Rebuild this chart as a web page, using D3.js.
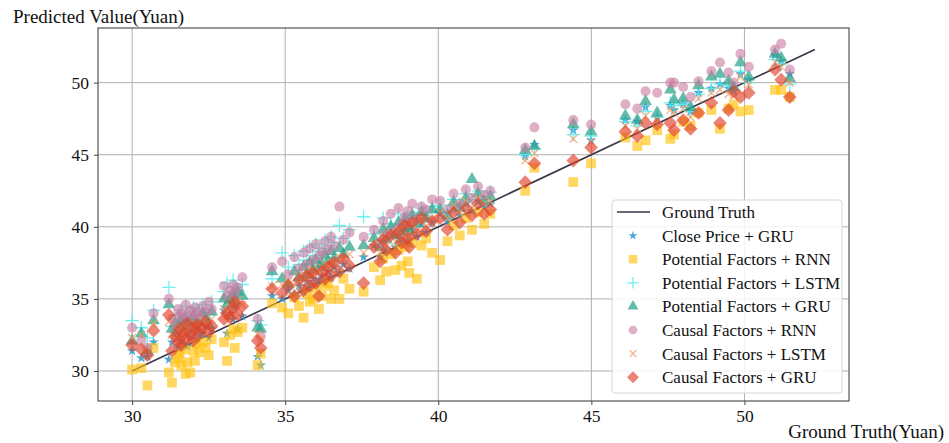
<!DOCTYPE html>
<html>
<head>
<meta charset="utf-8">
<script src="https://cdn.jsdelivr.net/npm/d3@7"></script>
<style>
  body { margin: 0; background: #fff; }
  svg { display: block; font-family: "Liberation Serif", "Times New Roman", serif; }
</style>
</head>
<body>
<svg id="chart" width="949" height="443"></svg>
<script>
// ground truth (x) for every test sample
const groundTruth = [
  30.0, 30.3, 30.5, 30.7,
  31.2, 31.3, 31.4, 31.5, 31.55, 31.6, 31.7, 31.75, 31.8, 31.9, 32.0, 32.05, 32.1, 32.2, 32.3, 32.4, 32.5, 32.6,
  33.0, 33.1, 33.2, 33.3, 33.35, 33.45, 33.6,
  34.1, 34.2,
  34.57, 34.9, 35.1, 35.3, 35.45, 35.6, 35.7, 35.8, 35.9, 36.0, 36.1, 36.2, 36.3, 36.4, 36.5, 36.6, 36.77, 36.9, 37.1, 37.56,
  37.9, 38.1, 38.2, 38.3, 38.45, 38.6, 38.7, 38.8, 38.9, 39.0, 39.05, 39.15, 39.3, 39.45, 39.6, 39.8,
  40.06, 40.3, 40.5, 40.7, 40.9, 41.1, 41.3, 41.5, 41.7,
  42.84, 43.14, 44.41, 44.99, 46.11, 46.5, 46.77, 47.15, 47.58, 47.7, 48.0, 48.24, 48.5, 48.92, 49.2, 49.48, 49.65, 49.87, 50.14, 51.0, 51.2, 51.48
];

// predicted values per model (same order as groundTruth)
const closeGRU = [
  31.4, 30.9, 31.0, 32.0,
  30.8, 32.0, 32.6, 31.6, 32.3, 32.1, 31.9, 32.7, 31.7, 32.4, 32.8, 32.2, 33.0, 32.5, 32.6, 33.1, 32.3, 32.9,
  34.2, 32.6, 34.0, 33.6, 34.4, 32.9, 33.8,
  31.0, 30.4,
  35.2, 35.0, 35.6, 35.3, 35.9, 35.5, 36.2, 35.8, 36.4, 36.0, 36.3, 36.6, 36.1, 36.9, 36.5, 37.2, 36.8, 37.4, 37.1, 37.9,
  38.7, 37.9, 39.0, 38.3, 39.5, 38.6, 39.2, 38.9, 39.9, 39.1, 38.8, 39.8, 39.3, 40.2, 39.6, 40.3,
  40.9, 40.4, 41.3, 40.8, 41.6, 41.1, 41.8, 41.4, 41.6,
  44.9, 45.7, 46.7, 46.0, 47.4, 47.3, 48.3, 47.6, 48.4, 48.1, 48.5, 48.0, 49.3, 49.6, 49.9, 49.6, 49.4, 50.6, 50.2, 51.9, 51.5, 50.6
];
const potRNN = [
  30.1, 30.2, 29.0, 31.6,
  29.9, 29.2, 30.6, 30.9, 31.2, 30.4, 31.5, 29.8, 30.6, 29.9, 31.4, 30.7, 31.9, 31.3, 32.0, 31.6, 31.1, 32.2,
  32.0, 30.7, 32.5, 32.9, 31.6, 32.7, 33.0,
  30.4, 31.2,
  34.7, 34.4, 34.0, 35.1, 34.5, 33.7, 35.4, 34.8, 35.0, 35.7, 34.3, 35.2, 35.9, 36.1, 35.0, 35.6, 35.0, 36.4, 35.7, 35.5,
  37.2, 36.3, 37.8, 36.9, 38.1, 37.0, 38.4, 37.3, 38.6, 37.6, 36.8, 38.9, 36.4, 38.7, 39.2, 38.2,
  37.7, 39.0, 40.1, 39.4, 40.6, 39.8, 41.0, 40.2, 40.9,
  42.5, 44.1, 43.1, 44.4, 46.2, 45.6, 46.0, 46.7, 46.1, 46.4, 47.3, 47.0, 47.9, 48.1, 46.8, 48.2, 48.5, 48.0, 48.1, 49.5, 49.5, 49.0
];
const potLSTM = [
  33.5, 33.0, 32.3, 34.2,
  35.8, 33.1, 33.6, 33.9, 33.4, 34.2, 33.8, 34.5, 33.6, 34.0, 34.4, 33.7, 34.3, 34.1, 34.6, 34.2, 33.9, 34.8,
  35.5, 36.1, 35.2, 36.3, 35.8, 35.6, 36.0,
  33.5, 33.2,
  36.4, 38.2, 37.2, 38.0, 37.4, 38.3, 37.7, 38.6, 38.0, 38.8, 38.3, 38.5, 39.1, 38.7, 39.3, 38.9, 40.1, 39.2, 39.8, 40.7,
  39.5, 39.0, 40.6, 39.4, 40.2, 39.7, 40.9, 40.0, 40.4, 40.8, 40.1, 41.0, 40.5, 41.3, 40.9, 41.4,
  41.5, 41.0, 41.9, 41.6, 42.3, 41.9, 42.5, 42.0, 42.4,
  45.0, 45.4, 46.4, 46.3, 47.3, 47.0, 48.0, 47.6, 48.6, 48.4, 48.5, 48.0, 49.2, 49.6, 49.9, 49.8, 49.5, 50.8, 50.0, 51.6, 51.3, 49.9
];
const potGRU = [
  32.1, 32.6, 31.4, 33.5,
  34.6, 32.9, 33.3, 32.6, 33.2, 33.5, 32.9, 33.6, 33.1, 33.4, 33.8, 33.0, 33.5, 33.3, 34.0, 33.7, 33.2, 34.1,
  35.0, 34.6, 34.9, 35.3, 34.8, 35.5, 35.2,
  33.0, 32.9,
  36.9, 36.4, 36.0, 36.9, 36.5, 37.2, 36.7, 37.5, 37.0, 37.7, 37.2, 37.4, 38.0, 37.6, 38.3, 37.8, 38.5, 38.1, 38.6, 38.7,
  39.2, 38.6, 39.8, 39.1, 40.0, 39.4, 40.3, 39.6, 40.5, 39.9, 39.7, 40.8, 40.2, 41.0, 40.6, 41.2,
  41.2, 40.8, 41.7, 41.3, 42.0, 43.3, 42.3, 41.8, 42.1,
  45.3, 45.6, 47.1, 46.6, 47.7, 47.4, 48.7, 47.9, 49.5, 48.8, 48.9, 48.3, 49.8, 50.4, 50.6, 50.1, 49.7, 51.4, 50.4, 52.0, 51.7, 50.3
];
const causalRNN = [
  33.0, 32.1, 31.6, 34.0,
  35.0, 33.6, 33.2, 34.3, 33.8, 34.0, 33.4, 34.6, 33.9, 34.2, 33.7, 34.4, 34.0, 33.8, 34.5, 34.1, 34.8, 34.3,
  35.9, 35.2, 35.6, 36.0, 35.4, 35.8, 36.5,
  33.6, 32.4,
  37.2, 37.6, 36.7, 37.9, 37.1, 38.2, 37.4, 38.5, 37.7, 38.8, 38.0, 38.3, 39.0, 38.4, 39.3, 38.7, 41.4, 39.1, 39.6, 39.3,
  39.8, 38.9, 40.4, 39.5, 40.9, 39.8, 41.3, 40.2, 40.7, 41.1, 40.3, 41.6, 40.6, 41.4, 41.2, 41.9,
  41.8, 41.2, 42.3, 41.6, 42.6, 42.0, 42.8, 42.2, 42.5,
  45.5, 46.9, 47.4, 47.1, 48.5, 48.2, 49.4, 49.3, 50.0, 50.0, 49.7, 49.0, 50.1, 50.8, 51.4, 50.7, 50.0, 52.0, 51.1, 52.3, 52.7, 50.9
];
const causalLSTM = [
  32.3, 32.5, 31.5, 33.3,
  33.4, 32.5, 32.2, 32.8, 32.3, 33.0, 32.6, 33.1, 32.7, 32.9, 33.3, 32.8, 33.2, 33.0, 33.5, 33.3, 33.1, 33.6,
  34.3, 34.0, 34.5, 34.7, 34.1, 34.9, 34.6,
  32.6, 32.2,
  35.9, 36.0, 36.2, 36.0, 36.6, 36.3, 36.9, 36.5, 37.1, 36.8, 37.0, 37.2, 37.4, 37.3, 37.6, 37.5, 37.9, 37.8, 38.1, 38.2,
  38.9, 38.2, 39.3, 38.7, 39.6, 39.0, 39.8, 39.2, 40.1, 39.5, 39.3, 40.2, 39.7, 40.4, 40.0, 40.6,
  41.0, 40.6, 41.5, 41.0, 41.8, 41.3, 42.0, 41.6, 41.8,
  44.6, 45.1, 46.1, 45.9, 47.0, 46.8, 47.7, 47.4, 48.1, 47.9, 48.2, 47.6, 48.9, 49.3, 49.5, 49.2, 49.1, 50.4, 49.9, 51.4, 51.1, 50.0
];
const causalGRU = [
  31.8, 31.5, 31.1, 32.8,
  33.9, 31.4, 32.4, 32.0, 32.9, 31.8, 32.6, 32.2, 33.3, 32.5, 32.1, 32.9, 33.2, 32.6, 33.0, 33.4, 32.7, 33.1,
  33.6, 34.0, 33.7, 34.4, 34.8, 33.9, 34.5,
  32.1, 31.6,
  35.7, 35.4, 35.9, 35.2, 36.3, 35.6, 36.6, 35.9, 36.8, 36.1, 35.2, 36.9, 36.4, 37.2, 36.6, 37.5, 36.9, 37.8, 37.3, 36.1,
  38.6, 37.6, 39.1, 38.4, 39.4, 38.2, 39.6, 38.9, 40.1, 39.2, 38.6, 40.3, 39.5, 40.6, 39.7, 40.4,
  40.6, 39.8, 41.0, 40.3, 41.3, 40.8, 41.6, 40.9, 41.2,
  43.1, 44.4, 44.6, 45.5, 46.6, 46.3, 47.2, 47.1, 47.2, 46.7, 47.4, 46.8, 47.9, 48.6, 47.2, 48.1, 49.4, 49.0, 49.3, 50.9, 50.2, 49.0
];

const seriesNames = [
  "Close Price + GRU", "Potential Factors + RNN", "Potential Factors + LSTM",
  "Potential Factors + GRU", "Causal Factors + RNN", "Causal Factors + LSTM", "Causal Factors + GRU"
];
const seriesValues = [closeGRU, potRNN, potLSTM, potGRU, causalRNN, causalLSTM, causalGRU];
const xTicks = [30, 35, 40, 45, 50];
const yTicks = [30, 35, 40, 45, 50];
const truthLine = [30.0, 52.3];

// marker style per series
const styles = [
  { shape: "star",     color: "#3098d0", size: 34,  alpha: 0.85 },
  { shape: "square",   color: "#ffc20e", size: 95,  alpha: 0.65 },
  { shape: "plus",     color: "#55eeee", size: 60,  alpha: 0.85 },
  { shape: "triangle", color: "#23a088", size: 70,  alpha: 0.7 },
  { shape: "circle",   color: "#c97a9e", size: 80,  alpha: 0.6 },
  { shape: "cross",    color: "#f59a5c", size: 40,  alpha: 0.75 },
  { shape: "diamond",  color: "#e0422a", size: 95,  alpha: 0.65 }
];
const symbolMap = {
  star: d3.symbolStar, square: d3.symbolSquare, plus: d3.symbolPlus,
  triangle: d3.symbolTriangle, circle: d3.symbolCircle, cross: d3.symbolTimes, diamond: d3.symbolSquare
};

const svg = d3.select("#chart");
const margin = { left: 98, right: 100, top: 28, bottom: 42 };
const W = 949, H = 443;

const x = d3.scaleLinear().domain([28.885, 53.415]).range([margin.left, W - margin.right]);
const y = d3.scaleLinear().domain([27.92, 53.79]).range([H - margin.bottom, margin.top]);

// grid
svg.append("g").selectAll("line").data(xTicks).join("line")
  .attr("x1", d => x(d)).attr("x2", d => x(d))
  .attr("y1", y.range()[0]).attr("y2", y.range()[1])
  .attr("stroke", "#b0b0b0").attr("stroke-width", 1);
svg.append("g").selectAll("line").data(yTicks).join("line")
  .attr("y1", d => y(d)).attr("y2", d => y(d))
  .attr("x1", x.range()[0]).attr("x2", x.range()[1])
  .attr("stroke", "#b0b0b0").attr("stroke-width", 1);

// ground truth line
svg.append("line")
  .attr("x1", x(truthLine[0])).attr("y1", y(truthLine[0]))
  .attr("x2", x(truthLine[1])).attr("y2", y(truthLine[1]))
  .attr("stroke", "#3b3548").attr("stroke-width", 1.6);

function drawMarker(sel, st, scale) {
  const k = scale || 1;
  const sym = d3.symbol().type(symbolMap[st.shape]).size(st.size * k);
  const p = sel.append("path").attr("d", sym());
  if (st.shape === "diamond") p.attr("transform", "rotate(45)");
  if (st.shape === "plus" || st.shape === "cross") {
    p.attr("fill", "none").attr("stroke", st.color).attr("stroke-width", 1.3).attr("stroke-opacity", st.alpha);
  } else {
    p.attr("fill", st.color).attr("fill-opacity", st.alpha);
  }
  return p;
}

// scatter
const plot = svg.append("g");
seriesValues.forEach((vals, si) => {
  const st = styles[si];
  const g = plot.append("g");
  vals.forEach((v, i) => {
    const m = g.append("g").attr("transform", `translate(${x(groundTruth[i])},${y(v)})`);
    drawMarker(m, st);
  });
});

// frame
svg.append("rect")
  .attr("x", x.range()[0]).attr("y", y.range()[1])
  .attr("width", x.range()[1] - x.range()[0]).attr("height", y.range()[0] - y.range()[1])
  .attr("fill", "none").attr("stroke", "#444").attr("stroke-width", 1.1);

// axes
const xAxis = svg.append("g").attr("transform", `translate(0,${y.range()[0]})`)
  .call(d3.axisBottom(x).tickValues(xTicks).tickSize(4).tickPadding(5));
const yAxis = svg.append("g").attr("transform", `translate(${x.range()[0]},0)`)
  .call(d3.axisLeft(y).tickValues(yTicks).tickSize(4).tickPadding(5));
[xAxis, yAxis].forEach(a => {
  a.select(".domain").remove();
  a.selectAll(".tick line").attr("stroke", "#444");
  a.selectAll(".tick text").attr("font-size", 17.5).attr("fill", "#111")
    .attr("font-family", "Liberation Serif, serif");
});

// axis titles
svg.append("text").attr("x", 13).attr("y", 23)
  .attr("font-size", 19).attr("fill", "#111").text("Predicted Value(Yuan)");
svg.append("text").attr("x", 944).attr("y", 438).attr("text-anchor", "end")
  .attr("font-size", 19).attr("fill", "#111").text("Ground Truth(Yuan)");

// legend
const lg = svg.append("g").attr("transform", "translate(612,200)");
lg.append("rect").attr("width", 230).attr("height", 193).attr("rx", 3)
  .attr("fill", "#fff").attr("fill-opacity", 0.85).attr("stroke", "#d6d6d6");
lg.append("line").attr("x1", 5).attr("x2", 38).attr("y1", 12).attr("y2", 12)
  .attr("stroke", "#3b3548").attr("stroke-width", 1.6);
lg.append("text").attr("x", 50).attr("y", 18).attr("font-size", 17).attr("fill", "#111").text("Ground Truth");
seriesNames.forEach((name, i) => {
  const yy = 12 + (i + 1) * 23.6;
  const m = lg.append("g").attr("transform", `translate(21,${yy})`);
  drawMarker(m, styles[i], 0.75);
  lg.append("text").attr("x", 50).attr("y", yy + 6).attr("font-size", 17).attr("fill", "#111").text(name);
});
</script>
</body>
</html>
